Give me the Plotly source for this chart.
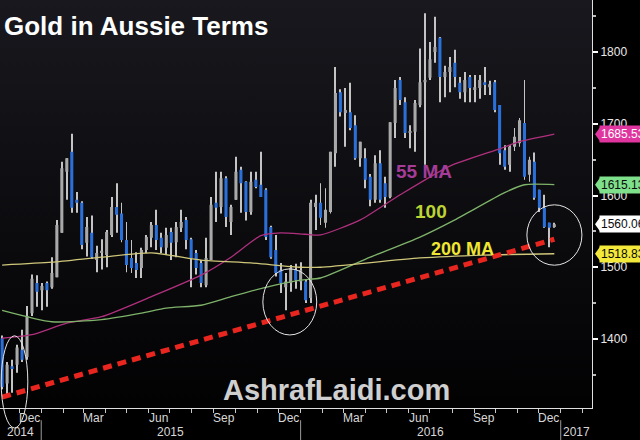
import base64
import pandas as pd
import plotly.graph_objects as go

# ---------------- data ----------------
first_week = "2014-11-07"
opens = [1401,1338,1362,1364,1385,1375,1436,1478,1468,1478,1472,1486,1548,1633,1661,1594,1590,1534,1548,1510,
         1520,1517,1545,1584,1575,1538,1513,1506,1499,1524,1541,1559,1541,1527,1549,1535,1555,1566,1539,1520,
         1506,1475,1510,1590,1584,1624,1563,1594,1636,1619,1577,1622,1615,1608,1556,1524,1496,1472,1478,1496,
         1480,1480,1457,1584,1590,1562,1577,1659,1744,1715,1716,1698,1652,1652,1626,1594,1645,1617,1598,1701,
         1761,1730,1687,1689,1726,1758,1764,1800,1820,1765,1772,1785,1757,1744,1765,1747,1750,1758,1751,1758,
         1726,1663,1643,1668,1673,1701,1629,1647,1608,1583,1562,1556]
highs = [1405,1368,1371,1392,1413,1446,1490,1489,1478,1480,1514,1566,1647,1652,1686,1605,1592,1570,1572,1530,
         1539,1552,1598,1617,1590,1563,1538,1521,1527,1545,1563,1580,1548,1555,1555,1563,1580,1570,1541,1524,
         1510,1541,1598,1633,1633,1627,1587,1654,1640,1620,1633,1633,1661,1610,1558,1545,1506,1492,1503,1505,
         1507,1483,1594,1601,1617,1610,1661,1779,1748,1750,1757,1712,1675,1666,1630,1656,1663,1626,1702,1761,
         1765,1737,1698,1733,1805,1854,1814,1849,1821,1781,1793,1803,1765,1772,1768,1768,1768,1779,1760,1761,
         1726,1670,1670,1694,1708,1761,1654,1660,1608,1601,1562,1562]
lows = [1330,1322,1325,1353,1368,1371,1432,1445,1440,1445,1470,1486,1548,1594,1576,1576,1525,1515,1512,1493,
        1497,1500,1542,1548,1535,1493,1492,1485,1485,1520,1528,1524,1520,1517,1510,1514,1549,1525,1472,1490,
        1472,1472,1510,1563,1575,1556,1545,1594,1576,1565,1573,1610,1598,1538,1512,1487,1464,1440,1466,1470,
        1468,1450,1450,1552,1559,1555,1575,1640,1710,1668,1691,1650,1640,1610,1585,1590,1590,1583,1596,1680,
        1726,1680,1666,1661,1723,1643,1761,1785,1730,1737,1744,1751,1735,1730,1730,1730,1735,1740,1740,1716,
        1643,1636,1633,1662,1668,1622,1619,1594,1577,1555,1528,1555]
closes = [1333,1364,1358,1388,1371,1432,1484,1466,1474,1468,1492,1559,1638,1652,1583,1590,1531,1556,1514,1520,
          1523,1549,1584,1573,1538,1503,1499,1496,1524,1542,1559,1538,1528,1545,1534,1556,1563,1538,1513,1499,
          1478,1513,1587,1583,1624,1570,1584,1633,1617,1577,1619,1612,1598,1542,1514,1492,1478,1480,1499,1482,
          1496,1454,1590,1590,1569,1580,1661,1743,1716,1719,1694,1652,1675,1622,1594,1645,1594,1598,1702,1750,
          1733,1687,1690,1729,1758,1761,1790,1807,1765,1772,1779,1765,1744,1761,1750,1751,1761,1754,1755,1719,
          1659,1640,1668,1682,1705,1626,1650,1597,1583,1556,1555,1560]

# moving averages read at selected weeks (index into weekly candles)
ma55_idx = [0, 6, 13, 20, 30, 40, 46, 52, 56, 61, 64, 72, 80, 90, 100, 104, 111]
ma55_val = [1401, 1406, 1422, 1431, 1459, 1489, 1514, 1544, 1548, 1546, 1545, 1566, 1601, 1641, 1665, 1675, 1685.53]
ma100_idx = [0, 10, 20, 28, 33, 40, 46, 53, 60, 64, 74, 84, 91, 101, 105, 111]
ma100_val = [1440, 1424, 1427, 1436, 1443, 1447, 1459, 1472, 1482, 1485, 1514, 1542, 1566, 1604, 1615, 1615.13]
ma200_idx = [0, 10, 20, 30, 40, 50, 60, 64, 84, 97, 111]
ma200_val = [1503, 1507, 1514, 1520, 1510, 1506, 1500, 1500, 1513, 1517, 1518.83]

trend_idx = [0, 111]
trend_val = [1319, 1539]

last_labels = ["1685.53", "1615.13", "1560.06", "1518.83"]
last_values = [1685.53, 1615.13, 1560.06, 1518.83]
last_bg = ["#e0359e", "#7fe08c", "#ffffff", "#f2e93a"]
last_fg = ["#ffffff", "#0a0a0a", "#0a0a0a", "#0a0a0a"]

y_ticks = [1400, 1500, 1600, 1700, 1800]
y_minor = [1350, 1450, 1550, 1650, 1750, 1850]
month_label_dates = ["2014-12-15", "2015-03-15", "2015-06-15", "2015-09-15", "2015-12-15",
                     "2016-03-15", "2016-06-15", "2016-09-15", "2016-12-15"]
month_label_text = ["Dec", "Mar", "Jun", "Sep", "Dec", "Mar", "Jun", "Sep", "Dec"]
years = ["2014", "2015", "2016", "2017"]
year_starts = ["2015-01-01", "2016-01-01", "2017-01-01"]
x_range = ["2014-11-04", "2017-02-14"]

# ---------------- figure ----------------
dates = pd.date_range(first_week, periods=len(closes), freq="7D")
NARROW = "Liberation Sans Narrow, Arial Narrow, Liberation Sans, Arial, sans-serif"
BOLD = "Liberation Sans, Arial, sans-serif"

fig = go.Figure()

# wicks (bar layer sits below the candle bodies)
fig.add_trace(go.Bar(x=dates, y=[h - l for h, l in zip(highs, lows)], base=lows,
                     width=1.3 * 86400000, marker=dict(color="#c4c4c4", line=dict(width=0)),
                     hoverinfo="skip", showlegend=False))

fig.add_trace(go.Candlestick(
    x=dates, open=opens, high=highs, low=lows, close=closes,
    increasing=dict(fillcolor="#a9a9a9", line=dict(color="#a9a9a9", width=0)),
    decreasing=dict(fillcolor="#2b6fd9", line=dict(color="#2b6fd9", width=0)),
    whiskerwidth=0, showlegend=False))

for idx, vals, col in [(ma55_idx, ma55_val, "#b0307e"), (ma100_idx, ma100_val, "#7fb36a"),
                       (ma200_idx, ma200_val, "#cfc77a")]:
    fig.add_trace(go.Scatter(x=[dates[i] for i in idx], y=vals, mode="lines",
                             line=dict(color=col, width=1.3, shape="spline", smoothing=0.6),
                             hoverinfo="skip", showlegend=False))

fig.add_trace(go.Scatter(x=[dates[i] for i in trend_idx], y=trend_val, mode="lines",
                         line=dict(color="#e8261f", width=5, dash="9px,6px"),
                         hoverinfo="skip", showlegend=False))

svg = ('<svg xmlns="http://www.w3.org/2000/svg" width="10" height="100" preserveAspectRatio="none">'
       '<defs><linearGradient id="g" x1="0" y1="0" x2="0" y2="1">'
       '<stop offset="0" stop-color="#18181e"/><stop offset="1" stop-color="#020203"/>'
       '</linearGradient></defs><rect width="10" height="100" fill="url(#g)"/></svg>')
bg_src = "data:image/svg+xml;base64," + base64.b64encode(svg.encode()).decode()

annotations = []
shapes = []
# title / watermark / MA labels
annotations.append(dict(text="<b>Gold in Aussie Terms</b>", xref="paper", yref="paper", x=0.003, y=0.937,
                        xanchor="left", yanchor="middle", showarrow=False,
                        font=dict(family=NARROW, size=26, color="#ffffff")))
annotations.append(dict(text="<b>AshrafLaidi.com</b>", xref="paper", yref="paper", x=0.569, y=0.045,
                        xanchor="center", yanchor="middle", showarrow=False,
                        font=dict(family=BOLD, size=29, color="#cfcfcf")))
annotations.append(dict(text="<b>55 MA</b>", xref="x", yref="y", x="2016-06-23", y=1634,
                        showarrow=False, font=dict(family=NARROW, size=19, color="#a43c98")))
annotations.append(dict(text="<b>100</b>", xref="x", yref="y", x="2016-07-02", y=1578,
                        showarrow=False, font=dict(family=NARROW, size=19, color="#bcd534")))
annotations.append(dict(text="<b>200 MA</b>", xref="x", yref="y", x="2016-08-16", y=1525,
                        showarrow=False, font=dict(family=NARROW, size=18, color="#f0e630")))

# last value tags
for txt, v, bg, fg in zip(last_labels, last_values, last_bg, last_fg):
    annotations.append(dict(text=txt, xref="paper", yref="y", x=1, y=v, xanchor="left", yanchor="middle",
                            xshift=7, showarrow=False, bgcolor=bg, borderpad=1,
                            font=dict(family=NARROW, size=12, color=fg)))
    u = 7 / 0.7175
    shapes.append(dict(type="path", xref="paper", yref="y", line=dict(width=0), fillcolor=bg,
                       path=f"M {1 + 8/592},{v + u} L {1 + 3/592},{v} L {1 + 8/592},{v - u} Z"))

# month / year labels
for d, t in zip(month_label_dates, month_label_text):
    annotations.append(dict(text=t, xref="x", yref="paper", x=d, y=-0.025, showarrow=False,
                            yanchor="middle", font=dict(family=NARROW, size=12, color="#d8d8d8")))
bounds = [x_range[0]] + year_starts + [x_range[1]]
for i, yr in enumerate(years):
    a, b = pd.Timestamp(bounds[i]), pd.Timestamp(bounds[i + 1])
    annotations.append(dict(text=yr, xref="x", yref="paper", x=a + (b - a) / 2, y=-0.06, showarrow=False,
                            yanchor="middle", font=dict(family=NARROW, size=12, color="#d8d8d8")))
for ys in year_starts:
    shapes.append(dict(type="line", xref="x", yref="paper", x0=ys, x1=ys, y0=-0.03, y1=-0.08,
                       line=dict(color="#9a9a9a", width=1)))

# circles
for x0, x1, y0, y1 in [(0.002, 0.047, -0.049, 0.177), (0.444, 0.535, 0.179, 0.341), (0.890, 0.983, 0.350, 0.498)]:
    shapes.append(dict(type="circle", xref="paper", yref="paper", x0=x0, x1=x1, y0=y0, y1=y1,
                       line=dict(color="#e6e6e6", width=1)))

month_ticks = pd.date_range("2014-11-01", "2017-02-01", freq="MS")

fig.update_layout(
    width=640, height=440, margin=dict(l=0, r=48, t=0, b=32),
    paper_bgcolor="#000000", plot_bgcolor="rgba(0,0,0,0)", boxgap=0.12, barmode="overlay",
    images=[dict(source=bg_src, xref="paper", yref="paper", x=0, y=1, sizex=1, sizey=1,
                 sizing="stretch", layer="below", xanchor="left", yanchor="top")],
    annotations=annotations, shapes=shapes, showlegend=False, hovermode=False,
    xaxis=dict(type="date", range=x_range, rangeslider=dict(visible=False), showgrid=False, zeroline=False,
               showline=True, linecolor="#e0e0e0", linewidth=1, tickmode="array", tickvals=month_ticks,
               ticktext=[""] * len(month_ticks), ticks="outside", ticklen=4, tickcolor="#c8c8c8"),
    yaxis=dict(side="right", range=[1303.8, 1872.5], showgrid=False, zeroline=False, showline=True,
               linecolor="#e0e0e0", linewidth=1, tickmode="array", tickvals=y_ticks,
               ticks="outside", ticklen=5, tickwidth=2, tickcolor="#ffffff",
               tickfont=dict(family=NARROW, size=12, color="#e8e8e8"),
               minor=dict(tickvals=y_minor, ticks="outside", ticklen=3, tickcolor="#bbbbbb")),
)

fig.write_html("out.html", config={"displayModeBar": False},
               post_script="document.body.style.margin='0';document.body.style.padding='0';")
